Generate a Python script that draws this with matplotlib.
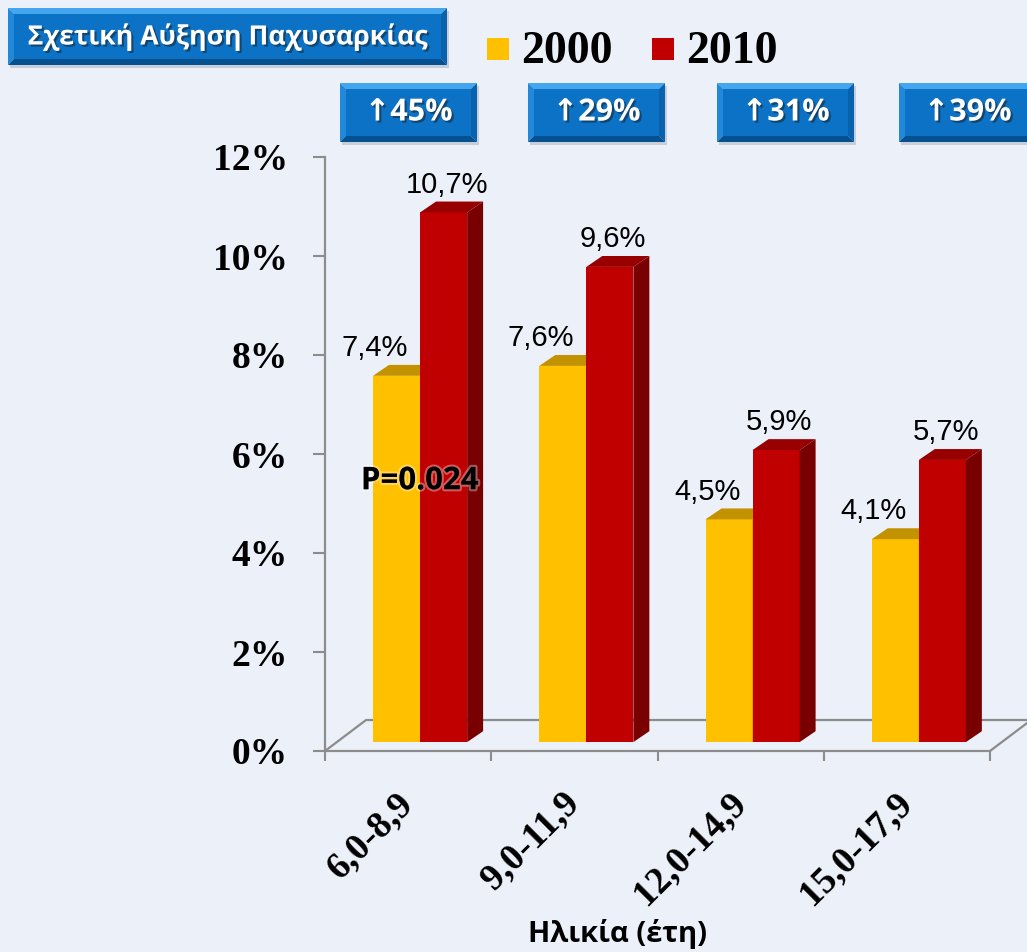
import matplotlib
matplotlib.use("Agg")
import matplotlib.pyplot as plt
import matplotlib.patheffects as pe
from matplotlib.patches import Polygon, Rectangle

# data
age_groups = ["6,0-8,9", "9,0-11,9", "12,0-14,9", "15,0-17,9"]
years = ["2000", "2010"]
obesity_2000 = [7.4, 7.6, 4.5, 4.1]
obesity_2010 = [10.7, 9.6, 5.9, 5.7]
increase = ["45%", "29%", "31%", "39%"]
y_ticks = [0, 2, 4, 6, 8, 10, 12]

front_colors = ["#FFC000", "#C00000"]
top_colors = ["#C29200", "#980000"]
side_colors = ["#A87E00", "#780000"]
gray = "#8C8C8C"

W, H = 1027, 952
SERIF = "Liberation Serif"
SANS = ["Open Sans", "DejaVu Sans"]

# pseudo-3d geometry (data units)
bar_w = 0.283
shift_x, shift_y = 0.072, 0.18   # bars sit a bit back from the front edge
depth_x, depth_y = 0.096, 0.22   # bar depth
floor_x, floor_y = 0.247, 0.626  # floor depth


def fp(px, py):
    return (px / W, 1 - py / H)


def button(x, y, w, h, text, size):
    b = 6
    fig.add_artist(Rectangle(fp(x + 2, y + h + 3), w / W, h / H, transform=fig.transFigure,
                             facecolor="#8090A8", alpha=0.35, edgecolor="none"))
    pieces = [
        ([(x, y), (x + w, y), (x + w - b, y + b), (x + b, y + b)], "#45A6F0"),
        ([(x, y), (x + b, y + b), (x + b, y + h - b), (x, y + h)], "#2288DA"),
        ([(x + w, y), (x + w - b, y + b), (x + w - b, y + h - b), (x + w, y + h)], "#0862AE"),
        ([(x, y + h), (x + b, y + h - b), (x + w - b, y + h - b), (x + w, y + h)], "#05508F"),
        ([(x + b, y + b), (x + w - b, y + b), (x + w - b, y + h - b), (x + b, y + h - b)], "#0B72C6"),
    ]
    for pts, c in pieces:
        fig.add_artist(Polygon([fp(*p) for p in pts], closed=True, transform=fig.transFigure,
                               facecolor=c, edgecolor="none"))
    fig.text(*fp(x + w / 2, y + h / 2), text, ha="center", va="center", color="white",
             fontsize=size, fontweight="bold", family=SANS,
             path_effects=[pe.SimplePatchShadow(offset=(1.5, -1.5), shadow_rgbFace="#1A1A1A", alpha=0.5),
                           pe.Normal()])


def bar3d(x_left, value, k):
    ax.bar(x_left, value, width=bar_w, bottom=shift_y, align="edge", color=front_colors[k],
           zorder=3 + k)
    y0, y1 = shift_y, shift_y + value
    x1 = x_left + bar_w
    top = [(x_left, y1), (x_left + depth_x, y1 + depth_y), (x1 + depth_x, y1 + depth_y), (x1, y1)]
    side = [(x1, y0), (x1 + depth_x, y0 + depth_y), (x1 + depth_x, y1 + depth_y), (x1, y1)]
    ax.add_patch(Polygon(top, closed=True, facecolor=top_colors[k], edgecolor="none", zorder=3 + k))
    ax.add_patch(Polygon(side, closed=True, facecolor=side_colors[k], edgecolor="none", zorder=3 + k))


fig = plt.figure(figsize=(W / 100, H / 100), dpi=100)
fig.patch.set_facecolor("#ECF0F9")
ax = fig.add_axes([325 / W, 1 - 751 / H, 665 / W, 594 / H])
ax.set_facecolor("none")
ax.set_xlim(-0.5, 3.5)
ax.set_ylim(0, 12)

# floor
ax.plot([-0.5, -0.5 + floor_x, 3.5 + floor_x, 3.5], [0, floor_y, floor_y, 0],
        color=gray, lw=1.6, clip_on=False, zorder=1)

label_gap = 0.18
for i in range(len(age_groups)):
    g = i + shift_x
    bar3d(g - bar_w, obesity_2000[i], 0)
    bar3d(g, obesity_2010[i], 1)
    ax.text(g - bar_w / 2 - 0.13, obesity_2000[i] + shift_y + depth_y + label_gap,
            f"{obesity_2000[i]:.1f}%".replace(".", ","), ha="center", va="baseline",
            fontsize=21, family="Liberation Sans", zorder=6)
    ax.text(g + bar_w / 2 + 0.02, obesity_2010[i] + shift_y + depth_y + label_gap,
            f"{obesity_2010[i]:.1f}%".replace(".", ","), ha="center", va="baseline",
            fontsize=21, family="Liberation Sans", zorder=6)

ax.text(0.07, 5.45, "P=0.024", ha="center", va="center", fontsize=22.5, fontweight="bold",
        family=SANS, zorder=10,
        path_effects=[pe.withStroke(linewidth=3, foreground=(1, 1, 1, 0.35))])

# axes styling
for s in ["top", "right"]:
    ax.spines[s].set_visible(False)
for s in ["left", "bottom"]:
    ax.spines[s].set_color(gray)
    ax.spines[s].set_linewidth(1.6)

ax.set_yticks(y_ticks)
ax.set_yticklabels([f"{v}%" for v in y_ticks], fontsize=27, fontweight="bold", family=SERIF)
ax.tick_params(axis="y", length=8.6, width=1.5, color=gray, pad=18)

ax.set_xticks(range(len(age_groups)))
ax.set_xticklabels(age_groups, rotation=45, ha="right", va="center", rotation_mode="anchor",
                   fontsize=27, fontweight="bold", family=SERIF)
ax.set_xticks([i - 0.5 for i in range(len(age_groups) + 1)], minor=True)
ax.tick_params(axis="x", which="major", length=0, pad=34)
ax.tick_params(axis="x", which="minor", length=7.2, width=1.5, color=gray)

fig.text(*fp(618, 934), "Ηλικία (έτη)", ha="center", va="center", fontsize=21,
         fontweight="bold", family=SANS)

# legend
for k, name in enumerate(years):
    x0 = 487 + k * 165
    fig.add_artist(Rectangle(fp(x0, 60), 22 / W, 22 / H, transform=fig.transFigure,
                             facecolor=front_colors[k], edgecolor="none"))
    fig.text(*fp(x0 + 34, 63), name, ha="left", va="baseline", fontsize=33,
             fontweight="bold", family=SERIF)

# blue boxes
button(8, 8, 439, 57, "Σχετική Αύξηση Παχυσαρκίας", 19.2)
for k, txt in enumerate(increase):
    button([340, 528, 717, 899][k], 83, 137, 59, "↑" + txt, 22)

fig.savefig("out.png", dpi=100, facecolor=fig.get_facecolor())
